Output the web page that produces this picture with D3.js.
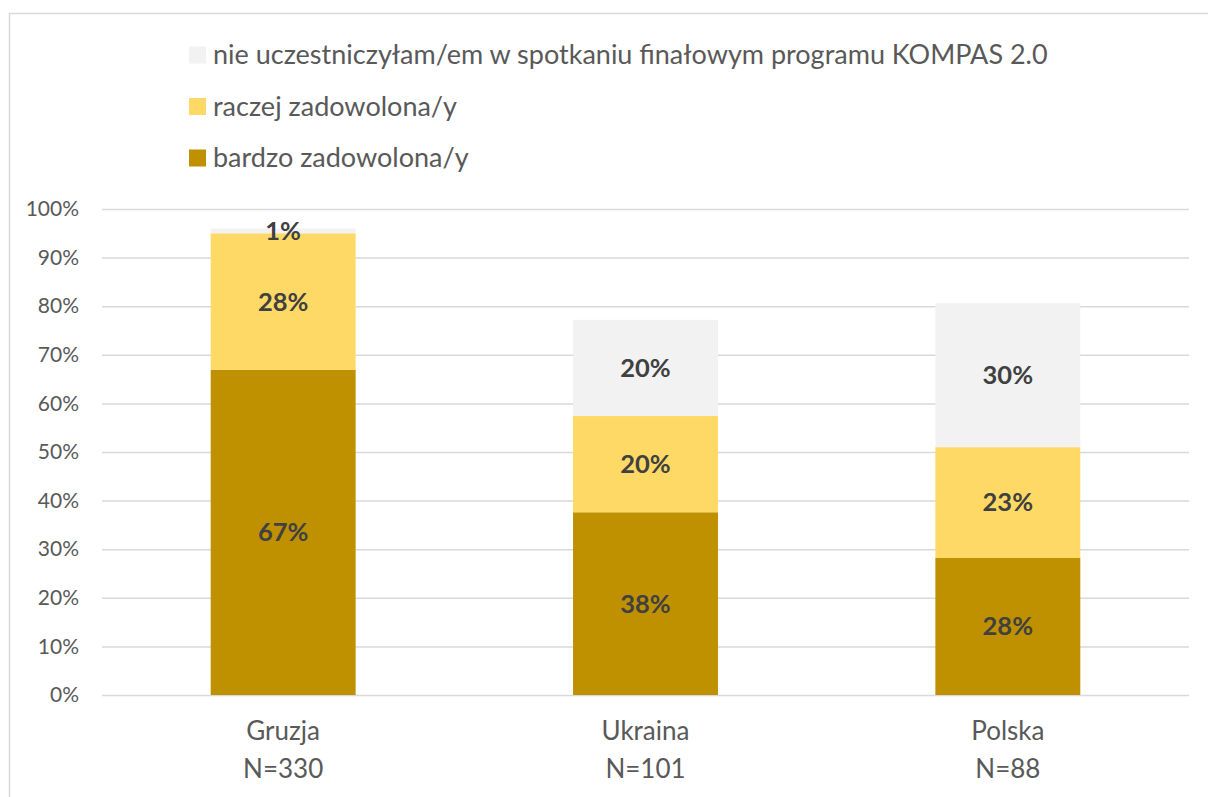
<!DOCTYPE html>
<html>
<head>
<meta charset="utf-8">
<script src="https://cdn.jsdelivr.net/npm/d3@7"></script>
<style>
  html, body { margin: 0; padding: 0; background: #fff; }
  svg { display: block; }
  text { font-family: Lato, "Open Sans", sans-serif; }
</style>
</head>
<body>
<svg id="chart" width="1208" height="797"></svg>
<script>
const categories = ["Gruzja", "Ukraina", "Polska"];
const sampleSizes = ["N=330", "N=101", "N=88"];
const seriesKeys = ["bardzo", "raczej", "nie"];
const seriesNames = ["bardzo zadowolona/y", "raczej zadowolona/y", "nie uczestniczyłam/em w spotkaniu finałowym programu KOMPAS 2.0"];
const bardzo = [66.9, 37.6, 28.2];
const raczej = [28.1, 19.8, 22.8];
const nie = [1.0, 19.8, 29.6];
const yTicks = [0, 10, 20, 30, 40, 50, 60, 70, 80, 90, 100];

const colors = { bardzo: "#BF9000", raczej: "#FFD966", nie: "#F2F2F2" };

const table = categories.map((c, i) => ({ cat: c, bardzo: bardzo[i], raczej: raczej[i], nie: nie[i] }));

const svg = d3.select("#chart");

// outer chart border
svg.append("rect")
  .attr("x", 9.5).attr("y", 13.5)
  .attr("width", 1400).attr("height", 1000)
  .attr("fill", "none").attr("stroke", "#D9D9D9").attr("stroke-width", 1.5);

const plotLeft = 102, plotRight = 1189, plotTop = 209, plotBottom = 695;

const x = d3.scaleBand().domain(categories).range([plotLeft, plotRight]).padding(0);
const y = d3.scaleLinear().domain([0, 100]).range([plotBottom, plotTop]);
const barW = x.bandwidth() * 0.4;

// gridlines + y labels
const yAxis = d3.axisLeft(y).tickValues(yTicks).tickSize(0).tickPadding(23).tickFormat(d => d + "%");
const gy = svg.append("g").attr("transform", `translate(${plotLeft},0)`).call(yAxis);
gy.select(".domain").remove();
gy.selectAll("text").attr("fill", "#595959").style("font-size", "21px");

const grid = d3.axisLeft(y).tickValues(yTicks).tickSize(-(plotRight - plotLeft)).tickFormat("");
const gg = svg.append("g").attr("transform", `translate(${plotLeft},0)`).call(grid);
gg.select(".domain").remove();
gg.selectAll("line").attr("stroke", "#D9D9D9").attr("stroke-width", 1.5);

// stacked bars
const stack = d3.stack().keys(seriesKeys)(table);
const layers = svg.append("g").selectAll("g").data(stack).join("g")
  .attr("fill", d => colors[d.key]);
layers.selectAll("rect").data(d => d).join("rect")
  .attr("x", d => x(d.data.cat) + (x.bandwidth() - barW) / 2)
  .attr("width", barW)
  .attr("y", d => y(d[1]))
  .attr("height", d => y(d[0]) - y(d[1]));

// data labels
const labelG = svg.append("g");
stack.forEach(layer => {
  layer.forEach(d => {
    const v = d[1] - d[0];
    labelG.append("text")
      .attr("x", x(d.data.cat) + x.bandwidth() / 2)
      .attr("y", (y(d[0]) + y(d[1])) / 2)
      .attr("dy", "0.35em")
      .attr("text-anchor", "middle")
      .attr("fill", "#404040")
      .style("font-size", "25.5px")
      .style("font-weight", "bold")
      .text(Math.round(v) + "%");
  });
});

// x axis labels
const xAxis = d3.axisBottom(x).tickSize(0).tickPadding(0).tickFormat("");
const gx = svg.append("g").attr("transform", `translate(0,${plotBottom})`).call(xAxis);
gx.select(".domain").remove();
gx.selectAll(".tick").each(function(d, i) {
  const t = d3.select(this).append("text")
    .attr("text-anchor", "middle")
    .attr("fill", "#595959")
    .style("font-size", "26px");
  t.append("tspan").attr("x", 0).attr("y", 45).text(d);
  t.append("tspan").attr("x", 0).attr("y", 83).text(sampleSizes[i]);
});

// legend (reverse order)
const legendItems = seriesKeys.map((k, i) => ({ key: k, name: seriesNames[i] })).reverse();
const lg = svg.append("g").attr("transform", "translate(189,0)");
legendItems.forEach((it, i) => {
  const cy = 55 + i * 51.5;
  lg.append("rect").attr("x", 0).attr("y", cy - 8.5).attr("width", 17).attr("height", 17).attr("fill", colors[it.key]);
  lg.append("text").attr("x", 24).attr("y", cy).attr("dy", "0.35em")
    .attr("fill", "#595959").style("font-size", "27px").text(it.name);
});
</script>
</body>
</html>
